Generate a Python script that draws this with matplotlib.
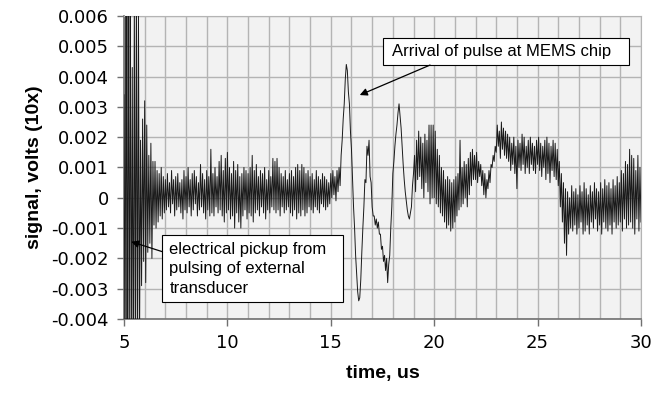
import matplotlib
matplotlib.use("Agg")
import matplotlib.pyplot as plt
import numpy as np
from matplotlib.patches import Rectangle

# --- signal data, units of 1e-4 V (10x gain), sampled every 0.05 us from 5 to 30 us ---
t_start, t_step = 5.0, 0.05
signal_e4 = [
    # 5.0 us
    34, -60, 75, -70, 80, -65, 70, -60, 43, -70, 65, -55, 70, -60, 60, -50, 19, -29, 26, -21,
    # 6.0 us
    32, -28, 24, -18, 14, -15, 18, -20, 12, -9, 12, -10, 9, -8, 8, -6, 10, -7, 7, -5,
    # 7.0 us
    6, -4, 8, -3, 5, -5, 9, -2, 6, -6, 7, -4, 8, -3, 5, -5, 6, -7, 9, -4,
    # 8.0 us
    7, -5, 10, -3, 6, -6, 8, -4, 9, -2, 7, -6, 5, -4, 11, -3, 8, -5, 6, -7,
    # 9.0 us
    9, -4, 7, -6, 16, -5, 8, -6, 10, -3, 7, -5, 12, -4, 14, -6, 9, -8, 13, -5,
    # 10.0 us
    15, -4, 10, -7, 8, -6, 12, -10, 9, -5, 11, -8, 7, -10, 8, -6, 10, -4, 9, -7,
    # 11.0 us
    8, -5, 10, -6, 14, -8, 9, -5, 11, -4, 7, -6, 9, -3, 8, -5, 10, -7, 6, -4,
    # 12.0 us
    9, -5, 7, -3, 13, -4, 12, -5, 13, -4, 10, -6, 8, -3, 7, -5, 9, -4, 6, -3,
    # 13.0 us
    8, -5, 9, -6, 7, -4, 10, -7, 11, -5, 9, -6, 11, -4, 10, -6, 8, -5, 9, -3,
    # 14.0 us
    7, -4, 8, -5, 6, -3, 9, -4, 7, -5, 6, -2, 8, -3, 7, -4, 6, -3, 5, -2,
    # 15.0 us
    8, 0, 9, 1, 7, -1, 9, 2, 10, 4, 14, 19, 26, 31, 39, 44, 42, 35, 31, 22,
    # 16.0 us
    16, 6, -3, -10, -19, -25, -31, -34, -33, -27, -18, -10, -3, 6, 5, 17, 14, 19, 7, 5,
    # 17.0 us
    -3, -6, -6, -9, -7, -10, -8, -12, -12, -17, -16, -21, -19, -24, -20, -28, -22, -19, -10, -3,
    # 18.0 us
    8, 12, 17, 21, 24, 28, 31, 27, 23, 17, 11, 6, 2, -1, -4, -6, -7, -5, -3, 4,
    # 19.0 us
    8, 14, 2, 19, 6, 22, 7, 20, 3, 18, 0, 21, 5, 19, 2, 24, -2, 24, 0, 24,
    # 20.0 us
    0, 22, -2, 16, -3, 14, -5, 10, -6, 9, -8, 6, -10, 7, -9, 6, -11, 5, -10, 6,
    # 21.0 us
    -8, 7, -6, 8, -4, 19, -3, 10, -2, 12, 0, 11, -3, 13, 1, 15, 4, 16, 6, 14,
    # 22.0 us
    6, 15, 5, 12, 7, 11, 4, 9, 1, 8, 0, 6, 3, 9, 5, 11, 10, 14, 12, 17,
    # 23.0 us
    15, 24, 17, 22, 13, 25, 16, 23, 14, 22, 13, 21, 12, 20, 9, 18, 11, 20, 8, 17,
    # 24.0 us
    3, 19, 10, 18, 9, 21, 11, 20, 8, 17, 10, 19, 8, 20, 11, 18, 9, 17, 8, 19,
    # 25.0 us
    11, 20, 9, 18, 7, 17, 10, 19, 6, 20, 8, 18, 5, 17, 9, 19, 7, 18, 6, 16,
    # 26.0 us
    4, 12, -3, 8, -8, 5, -15, 3, -19, 2, -12, 0, -10, 4, -11, 2, -9, 3, -12, 1,
    # 27.0 us
    -10, 4, -8, 2, -12, 5, -11, 3, -9, 1, -12, 4, -8, 2, -10, 5, -7, 3, -11, 2,
    # 28.0 us
    -9, 5, -12, 3, -8, 6, -10, 4, -11, 5, -9, 3, -12, 6, -8, 4, -10, 7, -9, 5,
    # 29.0 us
    -8, 9, -11, 8, -7, 12, -10, 11, -9, 16, -8, 14, -10, 13, -12, 9, -7, 14, -11, 10,
    # 30.0 us
    -8,
]

x_ticks = [5, 10, 15, 20, 25, 30]
y_ticks = [-0.004, -0.003, -0.002, -0.001, 0, 0.001, 0.002, 0.003, 0.004, 0.005, 0.006]
y_labels = ["-0.004", "-0.003", "-0.002", "-0.001", "0", "0.001", "0.002",
            "0.003", "0.004", "0.005", "0.006"]

signal = np.array(signal_e4) * 1e-4
t = t_start + t_step * np.arange(len(signal))

fig = plt.figure(figsize=(6.54, 3.99), dpi=100)
ax = fig.add_axes([0.1896, 0.2005, 0.7905, 0.7595])
ax.set_facecolor("#f2f2f2")

ax.plot(t, signal, color="#1a1a1a", lw=0.7, zorder=3)

ax.set_xlim(5, 30)
ax.set_ylim(-0.004, 0.006)
ax.set_xticks(x_ticks)
ax.set_xticks(np.arange(5, 31, 1), minor=True)
ax.set_yticks(y_ticks)
ax.set_yticklabels(y_labels)
ax.grid(which="both", color="#b4b4b4", lw=1.0, zorder=0)
ax.set_axisbelow(True)
ax.tick_params(which="major", direction="out", length=5, width=1, color="#707070",
               labelsize=13, pad=6)
ax.tick_params(which="minor", length=0)
for s in ["top", "right"]:
    ax.spines[s].set_color("#b4b4b4")
for s in ["left", "bottom"]:
    ax.spines[s].set_color("#707070")
    ax.spines[s].set_linewidth(1.2)

ax.set_xlabel("time, us", fontsize=14, fontweight="bold", family="Liberation Sans", labelpad=9)
ax.set_ylabel("signal, volts (10x)", fontsize=14, fontweight="bold", family="Liberation Sans",
              labelpad=6)

# callout boxes
ax.add_patch(Rectangle((17.51, 0.00527), 11.91, -0.00089, facecolor="white", edgecolor="black",
                       lw=0.8, zorder=5))
ax.text(17.96, 0.00482, "Arrival of pulse at MEMS chip", fontsize=12, family="Liberation Sans",
        va="center", ha="left", zorder=6)
ax.annotate("", xy=(16.4, 0.00339), xytext=(19.8, 0.00438),
            arrowprops=dict(arrowstyle="-|>", color="black", lw=0.9, mutation_scale=11,
                            shrinkA=0, shrinkB=0), zorder=6)

ax.add_patch(Rectangle((6.86, -0.00123), 8.71, -0.00221, facecolor="white", edgecolor="black",
                       lw=0.8, zorder=5))
ax.text(7.2, -0.00235, "electrical pickup from\npulsing of external\ntransducer", fontsize=12,
        family="Liberation Sans", va="center", ha="left", linespacing=1.4, zorder=6)
ax.annotate("", xy=(5.35, -0.00145), xytext=(6.86, -0.00178),
            arrowprops=dict(arrowstyle="-|>", color="black", lw=0.9, mutation_scale=11,
                            shrinkA=0, shrinkB=0), zorder=6)

fig.savefig("out.png", dpi=100)
